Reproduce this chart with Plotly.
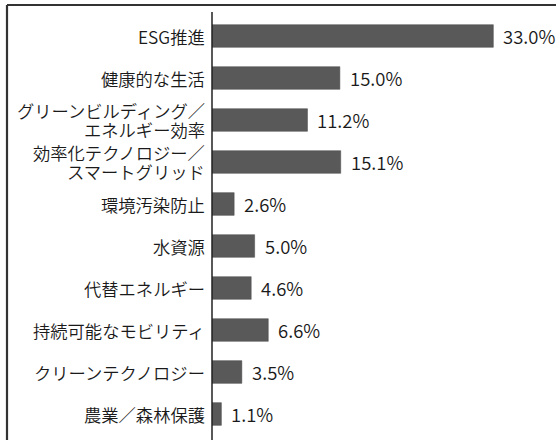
import plotly.graph_objects as go

categories = [
    "ESG推進",
    "健康的な生活",
    "グリーンビルディング／<br>エネルギー効率",
    "効率化テクノロジー／<br>スマートグリッド",
    "環境汚染防止",
    "水資源",
    "代替エネルギー",
    "持続可能なモビリティ",
    "クリーンテクノロジー",
    "農業／森林保護",
]
values = [33.0, 15.0, 11.2, 15.1, 2.6, 5.0, 4.6, 6.6, 3.5, 1.1]
value_labels = [f"{v:.1f}%" for v in values]

FONT = "Noto Sans CJK JP"
BAR = "#595959"
TXT = "#1a1a1a"

fig = go.Figure()
fig.add_trace(go.Bar(
    x=values, y=categories, orientation="h",
    marker=dict(color=BAR, line=dict(color="#4a4a4a", width=0.5)),
    width=0.54, hoverinfo="skip",
))

annotations = [
    dict(x=v, y=c, text=t, xref="x", yref="y", xanchor="left", yanchor="middle",
         xshift=8, showarrow=False,
         font=dict(family=FONT, size=18.5, color=TXT, weight=350))
    for v, c, t in zip(values, categories, value_labels)
]

# category labels, one annotation per line for tight line spacing
LINE_GAP = 19
for c in categories:
    lines = c.split("<br>")
    n = len(lines)
    for i, ln in enumerate(lines):
        annotations.append(dict(
            x=0, y=c, text=ln, xref="paper", yref="y",
            xanchor="right", yanchor="middle", xshift=-5,
            yshift=((n - 1) / 2 - i) * LINE_GAP, showarrow=False,
            font=dict(family=FONT, size=17.3, color=TXT, weight=350)))

L, R, T, B = 212, 3, 15, 5
W, H = 556, 440
pw = W - L - R
ph = H - T - B

def px(x):
    return (x - L) / pw

def py(y):
    return (H - B - y) / ph

shapes = [
    dict(type="line", xref="paper", yref="paper", x0=0, x1=0,
         y0=py(445), y1=py(12), line=dict(color="#222", width=1.5)),
    dict(type="line", xref="paper", yref="paper", x0=px(7), x1=px(7),
         y0=py(445), y1=py(5), line=dict(color="#333", width=2.2)),
    dict(type="line", xref="paper", yref="paper", x0=px(7), x1=px(560),
         y0=py(5), y1=py(5), line=dict(color="#333", width=2.2)),
]

fig.update_layout(
    width=W, height=H,
    margin=dict(l=L, r=R, t=T, b=B, pad=0),
    paper_bgcolor="white", plot_bgcolor="white",
    showlegend=False,
    bargap=0.46,
    font=dict(family=FONT, size=17, color=TXT),
    xaxis=dict(range=[0, 40], visible=False, fixedrange=True),
    yaxis=dict(autorange="reversed", showgrid=False, zeroline=False,
               showline=False, ticks="", showticklabels=False),
    annotations=annotations,
    shapes=shapes,
)

fig.write_html("out.html")
